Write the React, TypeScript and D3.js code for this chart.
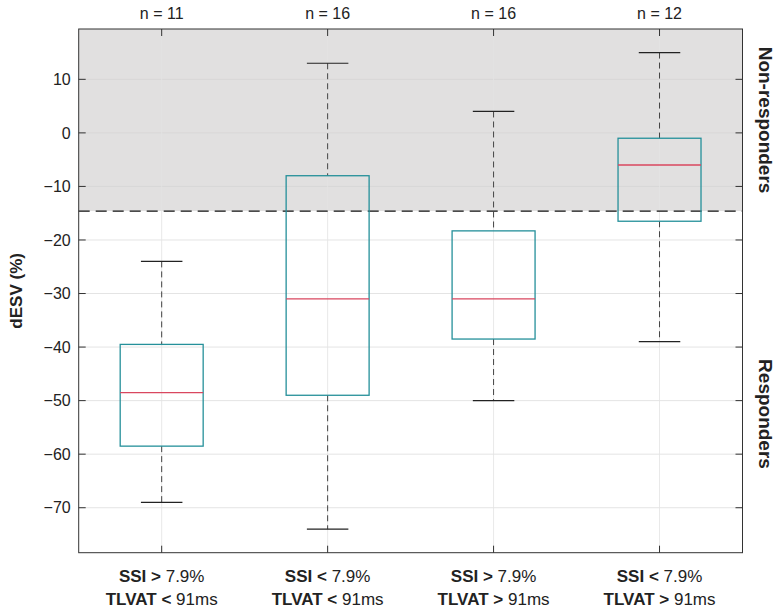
import React from "react";
import * as d3 from "d3";

const categories = ["g1", "g2", "g3", "g4"];
const nLabels = ["n = 11", "n = 16", "n = 16", "n = 12"];
const ssiOps = [">", "<", ">", "<"];
const tlvatOps = ["<", "<", ">", ">"];
const upperWhisker = [-24, 13, 4, 15];
const q3 = [-39.5, -8, -18.3, -1];
const median = [-48.5, -31, -31, -6];
const q1 = [-58.5, -49, -38.5, -16.5];
const lowerWhisker = [-69, -74, -50, -39];
const yTicks = [10, 0, -10, -20, -30, -40, -50, -60, -70];
const threshold = -14.6;

const W = 777, H = 609;
const L = 78.7, R = 742.5, T = 29, B = 552.7;
const FONT = "'Liberation Sans', Arial, Helvetica, sans-serif";

export default function App() {
  const x = d3.scaleLinear().domain([0.5, 4.5]).range([L, R]);
  const y = d3.scaleLinear().domain([-78.4, 19.4]).range([B, T]);
  const bw = 0.25;
  const cw = 0.125;
  const fmt = (v: number) => (v < 0 ? "\u2212" + Math.abs(v) : String(v));
  return (
    <svg width={W} height={H} style={{ position: "absolute", left: 0, top: 0 }} fontFamily={FONT}>
      <rect x={L} y={T} width={R - L} height={y(threshold) - T} fill="#e1e0e0" />
      {yTicks.map((t) => (
        <line key={"g" + t} x1={L} x2={R} y1={y(t)} y2={y(t)} stroke={y(t) < y(threshold) ? "#d8d7d7" : "#e4e4e4"} strokeWidth={1} />
      ))}
      {categories.map((c, i) => (
        <line key={"v" + c} x1={x(i + 1)} x2={x(i + 1)} y1={T} y2={B} stroke="#e4e4e4" strokeWidth={1} opacity={0.8} />
      ))}
      <line x1={L} x2={R} y1={y(threshold)} y2={y(threshold)} stroke="#111" strokeWidth={1.3} strokeDasharray="11,6" />
      {categories.map((c, i) => {
        const cx = x(i + 1);
        return (
          <g key={c}>
            <line x1={cx} x2={cx} y1={y(upperWhisker[i])} y2={y(q3[i])} stroke="#444" strokeWidth={1} strokeDasharray="6,4" />
            <line x1={cx} x2={cx} y1={y(q1[i])} y2={y(lowerWhisker[i])} stroke="#444" strokeWidth={1} strokeDasharray="6,4" />
            <line x1={x(i + 1 - cw)} x2={x(i + 1 + cw)} y1={y(upperWhisker[i])} y2={y(upperWhisker[i])} stroke="#222" strokeWidth={1.2} />
            <line x1={x(i + 1 - cw)} x2={x(i + 1 + cw)} y1={y(lowerWhisker[i])} y2={y(lowerWhisker[i])} stroke="#222" strokeWidth={1.2} />
            <rect x={x(i + 1 - bw)} y={y(q3[i])} width={x(i + 1 + bw) - x(i + 1 - bw)} height={y(q1[i]) - y(q3[i])} fill="none" stroke="#25909a" strokeWidth={1.3} />
            <line x1={x(i + 1 - bw)} x2={x(i + 1 + bw)} y1={y(median[i])} y2={y(median[i])} stroke="#d9475f" strokeWidth={1.3} />
          </g>
        );
      })}
      <rect x={L} y={T} width={R - L} height={B - T} fill="none" stroke="#333" strokeWidth={1} />
      {yTicks.map((t) => (
        <g key={"t" + t}>
          <line x1={L} x2={L + 7} y1={y(t)} y2={y(t)} stroke="#333" />
          <line x1={R} x2={R - 7} y1={y(t)} y2={y(t)} stroke="#333" />
          <text x={L - 8} y={y(t)} dy="0.36em" textAnchor="end" fontSize={16} fill="#222">{fmt(t)}</text>
        </g>
      ))}
      {categories.map((c, i) => (
        <g key={"b" + c}>
          <line x1={x(i + 1)} x2={x(i + 1)} y1={T} y2={T + 7} stroke="#333" />
          <line x1={x(i + 1)} x2={x(i + 1)} y1={B} y2={B - 7} stroke="#333" />
          <text x={x(i + 1)} y={19} textAnchor="middle" fontSize={16} fill="#222">{nLabels[i]}</text>
          <text x={x(i + 1)} y={582} textAnchor="middle" fontSize={17} fill="#222">
            <tspan fontWeight="bold">SSI {ssiOps[i]}</tspan> 7.9%
          </text>
          <text x={x(i + 1)} y={605} textAnchor="middle" fontSize={17} fill="#222">
            <tspan fontWeight="bold">TLVAT {tlvatOps[i]}</tspan> 91ms
          </text>
        </g>
      ))}
      <text transform={`translate(22,${(T + B) / 2}) rotate(-90)`} textAnchor="middle" fontSize={17} fontWeight="bold" fill="#222">dESV (%)</text>
      <text transform={`translate(759,${(T + y(threshold)) / 2}) rotate(90)`} textAnchor="middle" fontSize={19} fontWeight="bold" fill="#222">Non-responders</text>
      <text transform={`translate(759,${414}) rotate(90)`} textAnchor="middle" fontSize={19} fontWeight="bold" fill="#222">Responders</text>
    </svg>
  );
}
